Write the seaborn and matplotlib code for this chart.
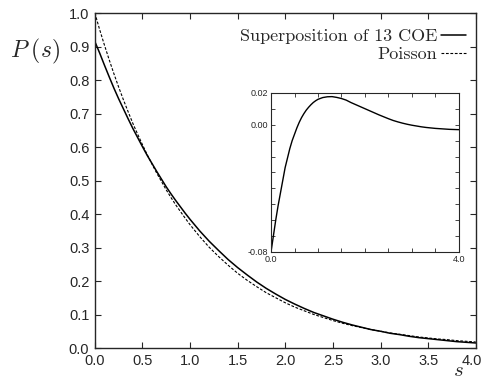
import numpy as np
import pandas as pd
import matplotlib
matplotlib.use("Agg")
import matplotlib.pyplot as plt
import matplotlib.transforms as mtransforms
import seaborn as sns

s_vals = [0.0, 0.05, 0.1, 0.15, 0.2, 0.25, 0.3, 0.35, 0.4, 0.45, 0.5, 0.55, 0.6, 0.65,
          0.7, 0.75, 0.8, 0.85, 0.9, 0.95, 1.0, 1.1, 1.2, 1.3, 1.4,
          1.5, 1.6, 1.7, 1.8, 1.9, 2.0, 2.1, 2.2, 2.3, 2.4, 2.5, 2.6, 2.7, 2.8, 2.9,
          3.0, 3.1, 3.2, 3.3, 3.4, 3.5, 3.6, 3.7, 3.8, 3.9, 4.0]
coe_vals = [0.915, 0.881, 0.845, 0.810, 0.776, 0.744, 0.714, 0.684, 0.655, 0.628, 0.601,
            0.575, 0.551, 0.527, 0.504, 0.481, 0.460, 0.440, 0.421, 0.402, 0.384,
            0.350, 0.319, 0.291, 0.264, 0.240, 0.218, 0.197, 0.178, 0.161, 0.145,
            0.131, 0.118, 0.106, 0.096, 0.086, 0.077, 0.069, 0.062, 0.055, 0.050, 0.044,
            0.040, 0.035, 0.031, 0.028, 0.025, 0.022, 0.019, 0.017, 0.015]
poisson_vals = [1.000, 0.951, 0.905, 0.861, 0.819, 0.779, 0.741, 0.705, 0.670, 0.638, 0.607,
                0.577, 0.549, 0.522, 0.497, 0.472, 0.449, 0.427, 0.407, 0.387, 0.368,
                0.333, 0.301, 0.273, 0.247, 0.223, 0.202, 0.183, 0.165, 0.150, 0.135,
                0.122, 0.111, 0.100, 0.091, 0.082, 0.074, 0.067, 0.061, 0.055, 0.050, 0.045,
                0.041, 0.037, 0.033, 0.030, 0.027, 0.025, 0.022, 0.020, 0.018]
diff_vals = [-0.080, -0.070, -0.060, -0.051, -0.043, -0.035, -0.027, -0.021, -0.015, -0.010,
             -0.006, -0.002, 0.0015, 0.0045, 0.0070, 0.0092, 0.0110, 0.0126, 0.0140, 0.0151,
             0.0160, 0.0171, 0.0176, 0.0177, 0.0172, 0.0165, 0.0155, 0.0140, 0.0127, 0.0114,
             0.0101, 0.0088, 0.0075, 0.0062, 0.0050, 0.0038, 0.0027, 0.0018, 0.0010,
             0.0003, -0.0003, -0.0008, -0.0013, -0.0017, -0.0020, -0.0023, -0.0025, -0.0027,
             -0.0029, -0.0030, -0.0031]

main_xticks = [0.0, 0.5, 1.0, 1.5, 2.0, 2.5, 3.0, 3.5, 4.0]
main_yticks = [0.0, 0.1, 0.2, 0.3, 0.4, 0.5, 0.6, 0.7, 0.8, 0.9, 1.0]
inset_xticks = [0.0, 0.5, 1.0, 1.5, 2.0, 2.5, 3.0, 3.5, 4.0]
inset_xlabels = ["0.0", "", "", "", "", "", "", "", "4.0"]
inset_yticks = [-0.08, -0.07, -0.06, -0.05, -0.04, -0.03, -0.02, -0.01, 0.00, 0.01, 0.02]
inset_ylabels = ["-0.08", "", "", "", "", "", "", "", "0.00", "", "0.02"]

sns.set_style("ticks")
plt.rcParams["font.family"] = ["Liberation Sans", "DejaVu Sans"]
plt.rcParams["mathtext.fontset"] = "cm"

df = pd.DataFrame({"s": s_vals, "coe": coe_vals, "poisson": poisson_vals, "diff": diff_vals})

fig = plt.figure(figsize=(4.84, 3.81), dpi=100)
ax = fig.add_axes([0.196, 0.0866, 0.787, 0.879])

sns.lineplot(data=df, x="s", y="coe", ax=ax, color="black", linewidth=1.1,
             label="Superposition of 13 COE")
sns.lineplot(data=df, x="s", y="poisson", ax=ax, color="black", linewidth=0.8,
             linestyle=(0, (2.5, 1.5)), label="Poisson")

ax.set_xlim(0, 4)
ax.set_ylim(0, 1)
ax.set_xticks(main_xticks)
ax.set_xticklabels([f"{v:.1f}" for v in main_xticks])
ax.set_yticks(main_yticks)
ax.set_yticklabels([f"{v:.1f}" for v in main_yticks])
ax.tick_params(direction="in", top=True, right=True, length=4, width=0.8,
               labelsize=10.5, pad=4)
for sp in ax.spines.values():
    sp.set_linewidth(1.0)
ax.set_xlabel("")
ax.set_ylabel("")

last = ax.get_xticklabels()[-1]
last.set_transform(last.get_transform() +
                   mtransforms.ScaledTranslation(-3.0 / 72, 0, fig.dpi_scale_trans))

leg = ax.legend(loc="upper right", bbox_to_anchor=(0.992, 0.976), frameon=False,
                markerfirst=False, handlelength=1.35, handletextpad=0.2,
                labelspacing=0.15, borderaxespad=0.0,
                prop={"family": "cmr10", "size": 13})

fig.text(0.021, 0.85, r"$P\;(s)$", fontsize=17, va="baseline")
fig.text(0.935, 0.013, r"$s$", fontsize=15, va="baseline")

ins = fig.add_axes([0.560, 0.339, 0.388, 0.417])
sns.lineplot(data=df, x="s", y="diff", ax=ins, color="black", linewidth=1.0)
ins.set_xlim(0, 4)
ins.set_ylim(-0.08, 0.02)
ins.set_xticks(inset_xticks)
ins.set_xticklabels(inset_xlabels)
ins.set_yticks(inset_yticks)
ins.set_yticklabels(inset_ylabels)
ins.tick_params(direction="in", top=True, right=True, length=3, width=0.6,
                labelsize=6.5, pad=2)
for sp in ins.spines.values():
    sp.set_linewidth(0.8)
ins.set_xlabel("")
ins.set_ylabel("")

fig.savefig("out.png", dpi=100)
